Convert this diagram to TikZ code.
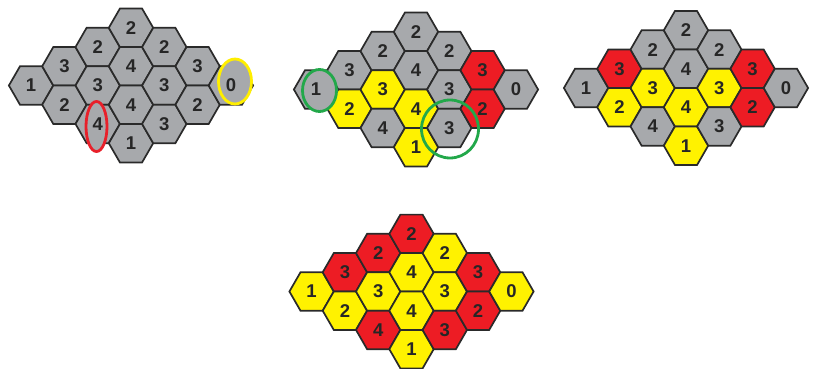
\documentclass[tikz,border=0pt]{standalone}
\usepackage{fontspec}
\setmainfont{Liberation Sans}
\usetikzlibrary{shapes.geometric}
\definecolor{gry}{HTML}{A7A9AC}
\definecolor{yel}{HTML}{FFF200}
\definecolor{rd}{HTML}{ED1C24}
\definecolor{hexline}{HTML}{2A2A2A}
\definecolor{txt}{HTML}{262626}
\definecolor{annred}{HTML}{E8202A}
\definecolor{annyel}{HTML}{FFEE00}
\definecolor{anngrn}{HTML}{22A84A}
\tikzset{
  hexcell/.style={regular polygon, regular polygon sides=6,
    minimum size=44.4pt, inner sep=0pt, outer sep=0pt, draw=hexline, line width=1.7pt},
  digit/.style={font=\bfseries\fontsize{18.5}{18.5}\selectfont, text=txt, inner sep=0pt},
  ring/.style={ellipse, line width=2.8pt, inner sep=0pt},
}
\newcommand{\hexgrid}[4]{%
  \foreach \f [count=\i] in {#4} {
    \pgfmathsetmacro{\cc}{{-3,-2,-2,-1,-1,-1,0,0,0,0,1,1,1,2,2,3}[\i-1]}
    \pgfmathsetmacro{\rr}{{0,-1,1,-2,0,2,-3,-1,1,3,-2,0,2,-1,1,0}[\i-1]}
    \node[hexcell, fill=\f] (#1h\i) at ({#2+\cc*33.3},{#3+\rr*19.225}) {};
  }%
}
\newcommand{\hexlabels}[1]{%
  \foreach \t [count=\i] in {1,3,2,2,3,4,2,4,4,1,2,3,3,3,2,0} {
    \node[digit] (#1t\i) at (#1h\i) {\t};
  }%
}
\begin{document}
\begin{tikzpicture}[x=1pt,y=-1pt]
\useasboundingbox (0,0) rectangle (814,369);
% grid 1
\hexgrid{ga}{131}{85.5}{gry,gry,gry,gry,gry,gry,gry,gry,gry,gry,gry,gry,gry,gry,gry,gry}
% grid 2
\hexgrid{gb}{416}{89.5}{gry,gry,yel,gry,yel,gry,gry,gry,yel,yel,gry,gry,gry,rd,rd,gry}
% grid 3
\hexgrid{gc}{686}{88}{gry,rd,yel,gry,yel,gry,gry,gry,yel,yel,gry,yel,gry,rd,rd,gry}
% grid 4
\hexgrid{gd}{411.5}{291.5}{yel,rd,yel,rd,yel,rd,rd,yel,yel,yel,yel,yel,rd,rd,rd,yel}
% filled annotation rings
\node[ring, draw=annred, fill=gry, minimum width=21pt, minimum height=50pt] (garing) at (96.5,126.5) {};
\node[ring, draw=annyel, fill=gry, minimum width=33pt, minimum height=45pt] (gyring) at (235,81.5) {};
\node[ring, draw=anngrn, fill=gry, minimum width=34pt, minimum height=42pt] (gbringA) at (319.5,90.5) {};
% labels
\hexlabels{ga}
\hexlabels{gb}
\hexlabels{gc}
\hexlabels{gd}
% open ring
\node[ring, draw=anngrn, minimum width=57pt, minimum height=58pt] (gbringB) at (450,129) {};
\end{tikzpicture}
\end{document}
